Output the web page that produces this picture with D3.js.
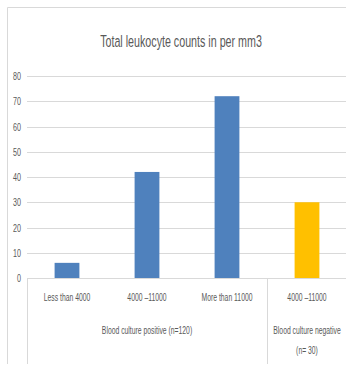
<!DOCTYPE html>
<html>
<head>
<meta charset="utf-8">
<script src="https://cdn.jsdelivr.net/npm/d3@7"></script>
<style>
  html, body { margin: 0; padding: 0; background: #fff; }
  svg { display: block; }
  text { font-family: "Liberation Sans Narrow", "Liberation Sans", sans-serif; fill: #595959; }
</style>
</head>
<body>
<svg id="chart" width="346" height="371"></svg>
<script>
// Leukocyte count categories and patient counts
const categories = ["Less than 4000", "4000 \u201311000", "More than 11000", "4000 \u201311000 "];
const labels = ["Less than 4000", "4000 \u201311000", "More than 11000", "4000 \u201311000"];
const values = [6, 42, 72, 30];
const groups = ["pos", "pos", "pos", "neg"];
const groupLabels = [
  { name: "pos", lines: ["Blood culture positive (n=120)"], first: 0, last: 2 },
  { name: "neg", lines: ["Blood culture negative", "(n= 30)"], first: 3, last: 3 }
];
const yTicks = [0, 10, 20, 30, 40, 50, 60, 70, 80];
const title = "Total leukocyte counts in per mm3";

const colors = { pos: "#4f81bd", neg: "#ffc000" };
const gridColor = "#d9d9d9";

const svg = d3.select("#chart");

// outer chart frame (top and left edges)
svg.append("path")
  .attr("d", "M7.5,364V7.5H346")
  .attr("fill", "none")
  .attr("stroke", gridColor);

const x = d3.scaleBand()
  .domain(categories)
  .range([27, 347])
  .paddingInner(0.69)
  .paddingOuter(0.345);

const y = d3.scaleLinear().domain([0, 80]).range([278, 76]);

// condensed text helper: scale horizontally about the anchor point
function ctext(g, str, px, py, size, anchor, squeeze) {
  return g.append("text")
    .attr("transform", `translate(${px},${py}) scale(${squeeze},1)`)
    .attr("text-anchor", anchor || "middle")
    .attr("font-size", size)
    .text(str);
}

// title
ctext(svg, title, 181, 47, 17, "middle", 0.63);

// gridlines
svg.append("g").selectAll("line")
  .data(yTicks.filter(d => d > 0))
  .join("line")
  .attr("x1", 27).attr("x2", 346)
  .attr("y1", d => Math.round(y(d)) + 0.5)
  .attr("y2", d => Math.round(y(d)) + 0.5)
  .attr("stroke", gridColor);

// y tick labels
const yl = svg.append("g");
yTicks.forEach(t => ctext(yl, String(t), 21, y(t) + 4, 11, "end", 0.65));

// bars
svg.append("g").selectAll("rect")
  .data(values)
  .join("rect")
  .attr("x", (d, i) => x(categories[i]))
  .attr("width", x.bandwidth())
  .attr("y", d => y(d))
  .attr("height", d => y(0) - y(d))
  .attr("fill", (d, i) => colors[groups[i]]);

// category axis baseline
svg.append("line")
  .attr("x1", 27).attr("x2", 346)
  .attr("y1", Math.round(y(0)) + 0.5).attr("y2", Math.round(y(0)) + 0.5)
  .attr("stroke", gridColor);

// group separators on the multi-level axis
const step = x.step();
const x0 = x.range()[0];
[0, 3].forEach(i => {
  const sx = Math.round(x0 + i * step) + 0.5;
  svg.append("line")
    .attr("x1", sx).attr("x2", sx)
    .attr("y1", y(0)).attr("y2", 364)
    .attr("stroke", gridColor);
});

// category labels
const cl = svg.append("g");
labels.forEach((l, i) => ctext(cl, l, x(categories[i]) + x.bandwidth() / 2, 301, 11, "middle", 0.62));

// group labels
const gl = svg.append("g");
groupLabels.forEach(g => {
  const cx = (x(categories[g.first]) + x(categories[g.last]) + x.bandwidth()) / 2;
  g.lines.forEach((ln, k) => ctext(gl, ln, cx, 334 + k * 20, 11, "middle", 0.62));
});
</script>
</body>
</html>
